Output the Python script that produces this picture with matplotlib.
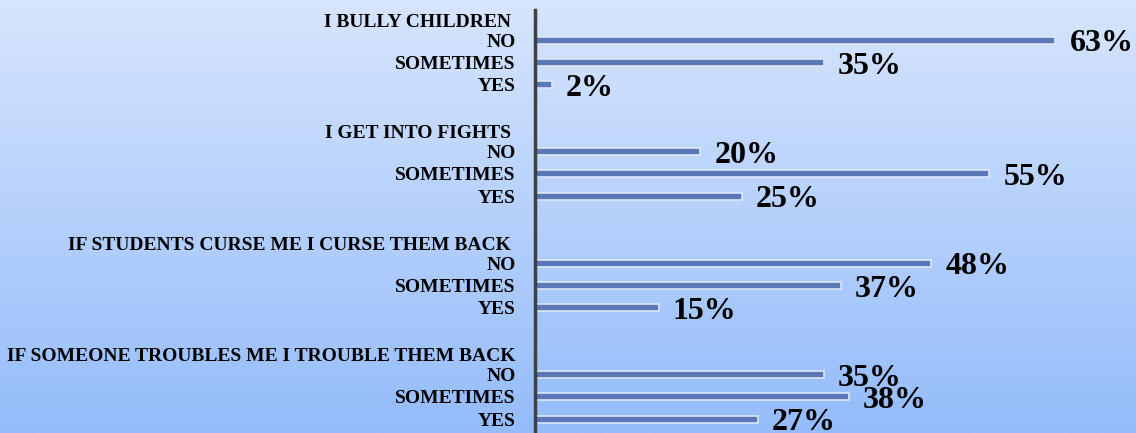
import numpy as np
import matplotlib
matplotlib.use('Agg')
import matplotlib.pyplot as plt
from matplotlib.colors import LinearSegmentedColormap

# survey questions and answer shares (%)
questions = ['I BULLY CHILDREN ',
             'I GET INTO FIGHTS ',
             'IF STUDENTS CURSE ME I CURSE THEM BACK ',
             'IF SOMEONE TROUBLES ME I TROUBLE THEM BACK']
answers = ['NO', 'SOMETIMES', 'YES']
no_vals = [63, 20, 48, 35]
sometimes_vals = [35, 55, 37, 38]
yes_vals = [2, 25, 15, 27]

W, H = 1136, 433
fig = plt.figure(figsize=(W / 100, H / 100), dpi=100)

# background: vertical light-blue gradient
bg = fig.add_axes([0, 0, 1, 1], zorder=-1)
grad = np.linspace(0, 1, 256).reshape(-1, 1)
cmap = LinearSegmentedColormap.from_list('bg', ['#d7e5fd', '#94bcfa'])
bg.imshow(grad, aspect='auto', cmap=cmap, extent=[0, 1, 0, 1])
bg.axis('off')

# main axes: left edge on the category line, 22.3 px per row
ax = fig.add_axes([535 / W, 0, 1 - 535 / W, 1 - 10 / H])
ax.patch.set_alpha(0)

ticks, labels, pos, vals = [], [], [], []
for g, q in enumerate(questions):
    base = g * 5
    ticks.append(base + 0.1)
    labels.append(q)
    for k, (a, v) in enumerate(zip(answers, [no_vals[g], sometimes_vals[g], yes_vals[g]])):
        ticks.append(base + k + 1)
        labels.append(a)
        pos.append(base + k + 1)
        vals.append(v)

ax.barh(pos, vals, height=0.32, color='#5a77b8', edgecolor='#dce7f8', linewidth=1.2)
for p, v in zip(pos, vals):
    ax.text(v + 1.7, p + 0.17, f'{v}%', va='center', ha='left',
            fontsize=23, fontweight='bold', family='Liberation Serif', color='black')

ax.set_ylim(18.62, -0.35)
ax.set_xlim(0, (W - 535) / 8.26)
ax.set_yticks(ticks)
ax.set_yticklabels(labels, fontsize=14, fontweight='bold', family='Liberation Serif')
ax.tick_params(axis='y', length=0, pad=14)
ax.set_xticks([])
for s in ['top', 'right', 'bottom']:
    ax.spines[s].set_visible(False)
ax.spines['left'].set_color('#404040')
ax.spines['left'].set_linewidth(2.5)

fig.savefig('out.png', dpi=100)
